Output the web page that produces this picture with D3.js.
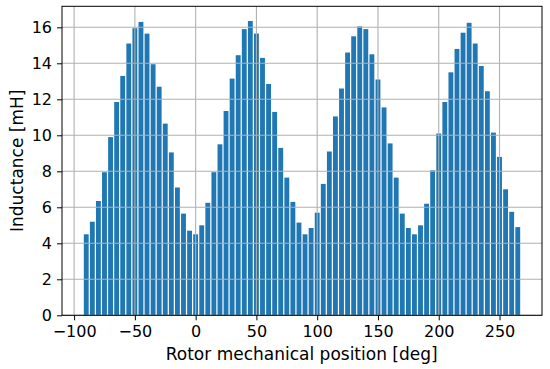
<!DOCTYPE html>
<html>
<head>
<meta charset="utf-8">
<script src="https://cdn.jsdelivr.net/npm/d3@7"></script>
<style>
  html, body { margin: 0; padding: 0; background: #fff; }
  svg text { font-family: "DejaVu Sans", sans-serif; }
</style>
</head>
<body>
<svg id="chart" width="550" height="369"></svg>
<script>
// Rotor mechanical positions [deg] (categories)
const positions = d3.range(72).map(i => -90 + 5 * i);
// Inductance values [mH]
const inductance = [
  4.5, 5.2, 6.35, 7.95, 9.9, 11.85, 13.3, 15.1, 15.95, 16.3, 15.65, 13.95, 12.7, 10.65, 9.05, 7.1, 5.65, 4.7,
  4.5, 5.0, 6.25, 7.95, 9.5, 11.35, 13.15, 14.45, 15.9, 16.35, 15.65, 14.3, 12.85, 11.3, 9.3, 7.65, 6.3, 5.15,
  4.5, 4.85, 5.7, 7.3, 9.1, 11.05, 12.6, 14.6, 15.5, 16.05, 15.9, 14.5, 13.1, 11.55, 9.55, 7.65, 5.65, 4.85,
  4.5, 5.0, 6.2, 8.05, 10.1, 11.85, 13.5, 14.8, 15.7, 16.25, 15.1, 13.85, 12.45, 10.15, 8.8, 7.0, 5.75, 4.9
];
const xTicks = [-100, -50, 0, 50, 100, 150, 200, 250];
const yTicks = [0, 2, 4, 6, 8, 10, 12, 14, 16];
const xLabel = "Rotor mechanical position [deg]";
const yLabel = "Inductance [mH]";
const barWidthDeg = 4;

const svg = d3.select("#chart");
const pLeft = 62, pRight = 542, pTop = 6.3, pBottom = 315.3;

const xMinData = d3.min(positions) - barWidthDeg / 2;
const xMaxData = d3.max(positions) + barWidthDeg / 2;
const xm = (xMaxData - xMinData) * 0.05;
const x = d3.scaleLinear().domain([xMinData - xm, xMaxData + xm]).range([pLeft, pRight]);
const y = d3.scaleLinear().domain([0, d3.max(inductance) * 1.05]).range([pBottom, pTop]);

// bars
svg.append("g").selectAll("rect")
  .data(positions)
  .join("rect")
  .attr("x", (d) => x(d - barWidthDeg / 2))
  .attr("width", (d) => x(d + barWidthDeg / 2) - x(d - barWidthDeg / 2))
  .attr("y", (d, i) => y(inductance[i]))
  .attr("height", (d, i) => y(0) - y(inductance[i]))
  .attr("fill", "#1f77b4");

// grid (drawn above bars)
const grid = svg.append("g");
grid.selectAll("line.gx").data(xTicks).join("line")
  .attr("x1", d => x(d)).attr("x2", d => x(d))
  .attr("y1", pTop).attr("y2", pBottom)
  .attr("stroke", "#b0b0b0").attr("stroke-width", 1.1);
grid.selectAll("line.gy").data(yTicks).join("line")
  .attr("y1", d => y(d)).attr("y2", d => y(d))
  .attr("x1", pLeft).attr("x2", pRight)
  .attr("stroke", "#b0b0b0").attr("stroke-width", 1.1);

// axes
const fmt = d => d < 0 ? "\u2212" + Math.abs(d) : String(d);
const xAxis = svg.append("g")
  .attr("transform", `translate(0,${pBottom})`)
  .call(d3.axisBottom(x).tickValues(xTicks).tickFormat(fmt).tickSize(5).tickPadding(5).tickSizeOuter(0));
const yAxis = svg.append("g")
  .attr("transform", `translate(${pLeft},0)`)
  .call(d3.axisLeft(y).tickValues(yTicks).tickFormat(fmt).tickSize(5).tickPadding(5).tickSizeOuter(0));
[xAxis, yAxis].forEach(a => {
  a.select(".domain").remove();
  a.selectAll("text").attr("font-size", 16).attr("fill", "#000").attr("font-family", "DejaVu Sans");
  a.selectAll(".tick line").attr("stroke", "#000").attr("stroke-width", 1);
});

// frame
svg.append("rect")
  .attr("x", pLeft).attr("y", pTop)
  .attr("width", pRight - pLeft).attr("height", pBottom - pTop)
  .attr("fill", "none").attr("stroke", "#000").attr("stroke-width", 1);

// labels
svg.append("text")
  .attr("x", 301.7).attr("y", 360)
  .attr("text-anchor", "middle").attr("font-size", 17).attr("fill", "#000")
  .text(xLabel);
svg.append("text")
  .attr("transform", `translate(23,${(pTop + pBottom) / 2}) rotate(-90)`)
  .attr("text-anchor", "middle").attr("font-size", 17).attr("fill", "#000")
  .text(yLabel);
</script>
</body>
</html>
